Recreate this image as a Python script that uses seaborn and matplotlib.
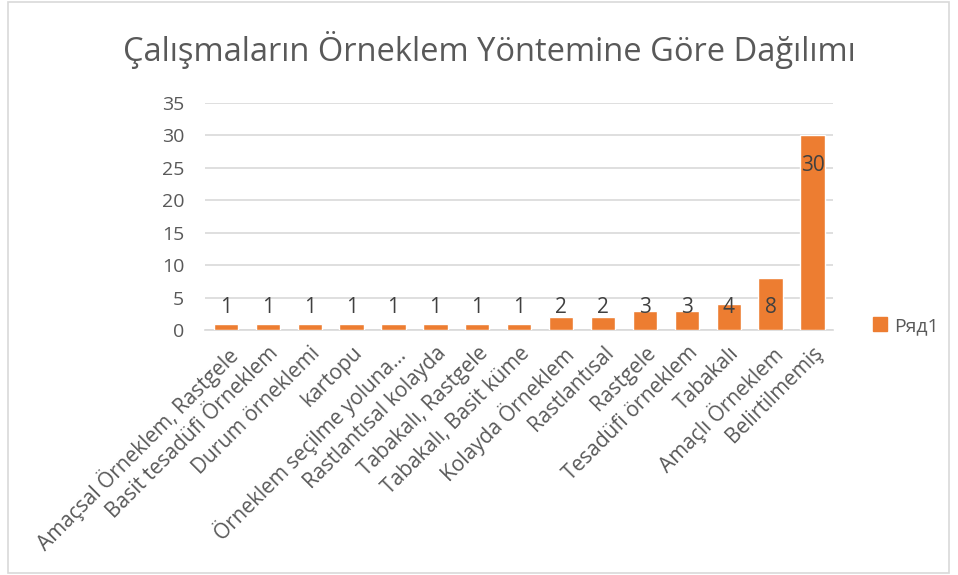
import pandas as pd
import matplotlib
matplotlib.use('Agg')
import matplotlib.pyplot as plt
import seaborn as sns
from matplotlib.patches import Rectangle, Patch

# veriler
categories = ["Amaçsal Örneklem, Rastgele", "Basit tesadüfi Örneklem", "Durum örneklemi",
              "kartopu", "Örneklem seçilme yoluna...", "Rastlantısal kolayda",
              "Tabakalı, Rastgele", "Tabakalı, Basit küme", "Kolayda Örneklem",
              "Rastlantısal", "Rastgele", "Tesadüfi örneklem", "Tabakalı",
              "Amaçlı Örneklem", "Belirtilmemiş"]
values = [1, 1, 1, 1, 1, 1, 1, 1, 2, 2, 3, 3, 4, 8, 30]
series_name = "Ряд1"
title = "Çalışmaların Örneklem Yöntemine Göre Dağılımı"
yticks = [0, 5, 10, 15, 20, 25, 30, 35]

sns.set_style('white')
plt.rcParams['font.family'] = ['Open Sans', 'DejaVu Sans']

df = pd.DataFrame({'kategori': categories, 'deger': values})

fig = plt.figure(figsize=(9.58, 5.75), dpi=100)
ax = fig.add_axes([0.214, 0.426, 0.656, 0.395])

sns.barplot(data=df, x='kategori', y='deger', color='#ED7D31', width=0.58,
            saturation=1, ax=ax, zorder=3)

ax.set_ylim(0, 35)
ax.set_yticks(yticks)
ax.set_xlim(-0.5, len(categories) - 0.5)
ax.grid(axis='y', color='#d9d9d9', lw=1.2, zorder=0)
ax.set_axisbelow(True)
for s in ['top', 'right', 'left']:
    ax.spines[s].set_visible(False)
ax.spines['bottom'].set_color('#d9d9d9')
ax.spines['bottom'].set_linewidth(1.2)
ax.tick_params(axis='both', length=0, colors='#595959', labelsize=14)
ax.tick_params(axis='y', pad=15)
ax.tick_params(axis='x', pad=9)
ax.set_xlabel('')
ax.set_ylabel('')
ax.set_xticks(range(len(categories)))
ax.set_xticklabels(categories, rotation=45, ha='right', rotation_mode='anchor',
                   fontsize=15, color='#595959')

# veri etiketleri
for i, v in enumerate(values):
    ly = v - 4.6 if v > 10 else 3.4
    ax.text(i, ly, str(v), ha='center', va='center', fontsize=15, color='#404040', zorder=4)

fig.text(0.511, 0.913, title, ha='center', va='center', fontsize=23.5, color='#595959')

fig.legend(handles=[Patch(color='#ED7D31', label=series_name)], loc='center left',
           bbox_to_anchor=(0.893, 0.433), frameon=False, fontsize=14,
           handlelength=0.7, handleheight=0.7, handletextpad=0.4,
           labelcolor='#595959')

fig.patches.append(Rectangle((0.008, 0.004), 0.983, 0.992, transform=fig.transFigure,
                             fill=False, edgecolor='#d9d9d9', lw=1.2))

fig.savefig('out.png', dpi=100)
